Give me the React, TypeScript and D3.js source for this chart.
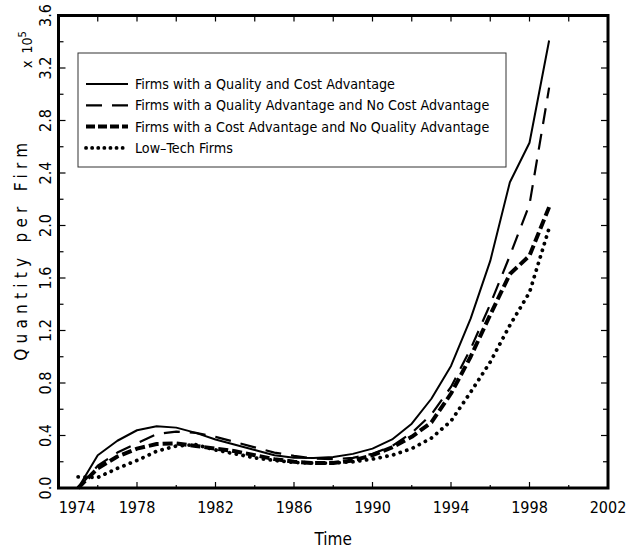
import React, { useEffect, useRef } from 'react';
import * as d3 from 'd3';

// yearly values, quantity per firm in units of 10^5
const years = [1975, 1976, 1977, 1978, 1979, 1980, 1981, 1982, 1983, 1984, 1985, 1986, 1987,
  1988, 1989, 1990, 1991, 1992, 1993, 1994, 1995, 1996, 1997, 1998, 1999];
const qualityCost = [0, 0.25, 0.36, 0.44, 0.47, 0.46, 0.42, 0.37, 0.33, 0.29, 0.25, 0.23, 0.228,
  0.236, 0.26, 0.30, 0.37, 0.49, 0.68, 0.93, 1.29, 1.73, 2.33, 2.63, 3.41];
const qualityOnly = [0, 0.17, 0.27, 0.34, 0.41, 0.43, 0.42, 0.39, 0.35, 0.31, 0.27, 0.245, 0.225,
  0.22, 0.23, 0.26, 0.32, 0.42, 0.56, 0.77, 1.06, 1.40, 1.77, 2.16, 3.05];
const costOnly = [0, 0.15, 0.24, 0.30, 0.335, 0.34, 0.32, 0.30, 0.28, 0.25, 0.22, 0.20, 0.19,
  0.19, 0.21, 0.25, 0.31, 0.39, 0.50, 0.72, 1.0, 1.32, 1.63, 1.77, 2.14];
const lowTech = [0.085, 0.08, 0.15, 0.21, 0.28, 0.32, 0.33, 0.29, 0.26, 0.23, 0.21, 0.195, 0.19,
  0.19, 0.20, 0.22, 0.25, 0.30, 0.38, 0.51, 0.73, 0.96, 1.24, 1.49, 1.98];

const seriesNames = [
  'Firms with a Quality and Cost Advantage',
  'Firms with a Quality Advantage and No Cost Advantage',
  'Firms with a Cost Advantage and No Quality Advantage',
  'Low\u2013Tech Firms',
];
const xTickLabels = [1974, 1978, 1982, 1986, 1990, 1994, 1998, 2002];
const yTickLabels = [0, 0.4, 0.8, 1.2, 1.6, 2.0, 2.4, 2.8, 3.2, 3.6];

const FONT = '"Liberation Sans Narrow", "DejaVu Sans Condensed", "Liberation Sans", sans-serif';

function App() {
  const ref = useRef<SVGSVGElement>(null);

  useEffect(() => {
    const width = 642;
    const height = 555;
    const margin = { top: 15.5, right: 34, bottom: 67, left: 58.5 };

    const svg = d3.select(ref.current);
    svg.selectAll('*').remove();

    const x = d3.scaleLinear().domain([1974, 2002]).range([margin.left, width - margin.right]);
    const y = d3.scaleLinear().domain([0, 3.6]).range([height - margin.bottom, margin.top]);

    const [x0, x1] = x.range();
    const [y0, y1] = y.range();

    const styles = [
      { data: qualityCost, width: 2, dash: null, cap: 'butt' },
      { data: qualityOnly, width: 2.2, dash: '16,10', cap: 'butt' },
      { data: costOnly, width: 4, dash: '10,4', cap: 'butt' },
      { data: lowTech, width: 3.8, dash: '0.1,6.8', cap: 'round' },
    ];

    const line = d3.line<number>()
      .x((d, i) => x(years[i]))
      .y(d => y(d));

    /* ------- LINES -------*/
    styles.forEach(s => {
      svg.append('path')
        .datum(s.data)
        .attr('d', line)
        .attr('fill', 'none')
        .attr('stroke', '#000')
        .attr('stroke-width', s.width)
        .attr('stroke-linecap', s.cap)
        .attr('stroke-linejoin', 'round')
        .attr('stroke-dasharray', s.dash);
    });

    /* ------- TICKS -------*/
    const xTicks = d3.range(1976, 2002, 2);
    xTicks.forEach(t => {
      const len = (t - 1974) % 4 === 0 ? 6 : 3;
      svg.append('line').attr('x1', x(t)).attr('x2', x(t)).attr('y1', y0).attr('y2', y0 - len)
        .attr('stroke', '#000').attr('stroke-width', 1.2);
      svg.append('line').attr('x1', x(t)).attr('x2', x(t)).attr('y1', y1).attr('y2', y1 + 6)
        .attr('stroke', '#000').attr('stroke-width', 1.2);
    });
    const yTicks = d3.range(0.2, 3.6, 0.2);
    yTicks.forEach(t => {
      const len = Math.round(t * 10) % 4 === 0 ? 7 : 5;
      svg.append('line').attr('x1', x0).attr('x2', x0 + len).attr('y1', y(t)).attr('y2', y(t))
        .attr('stroke', '#000').attr('stroke-width', 1.2);
      svg.append('line').attr('x1', x1).attr('x2', x1 - len).attr('y1', y(t)).attr('y2', y(t))
        .attr('stroke', '#000').attr('stroke-width', 1.2);
    });

    /* ------- FRAME -------*/
    svg.append('rect')
      .attr('x', x0).attr('y', y1)
      .attr('width', x1 - x0).attr('height', y0 - y1)
      .attr('fill', 'none').attr('stroke', '#000').attr('stroke-width', 3);

    /* ------- AXIS LABELS -------*/
    svg.selectAll('xLabels')
      .data(xTickLabels)
      .enter()
      .append('text')
      .attr('x', d => x(d) + (d === 1974 ? 18.5 : 0))
      .attr('y', 513)
      .attr('text-anchor', 'middle')
      .style('font-family', FONT)
      .style('font-size', '16px')
      .text(d => d);

    svg.selectAll('yLabels')
      .data(yTickLabels)
      .enter()
      .append('text')
      .attr('transform', d => `translate(50.5,${y(d)}) rotate(-90)`)
      .attr('text-anchor', 'middle')
      .style('font-family', FONT)
      .style('font-size', '16px')
      .text(d => d.toFixed(1));

    svg.append('text')
      .attr('x', (x0 + x1) / 2)
      .attr('y', 545)
      .attr('text-anchor', 'middle')
      .style('font-family', FONT)
      .style('font-size', '17px')
      .text('Time');

    svg.append('text')
      .attr('transform', `translate(26.5,${(y0 + y1) / 2}) rotate(-90)`)
      .attr('text-anchor', 'middle')
      .attr('textLength', 218)
      .attr('lengthAdjust', 'spacing')
      .style('font-family', FONT)
      .style('font-size', '17px')
      .text('Quantity per Firm');

    const mult = svg.append('text')
      .attr('transform', 'translate(32,68) rotate(-90)')
      .attr('text-anchor', 'start')
      .style('font-family', FONT)
      .style('font-size', '14px');
    mult.append('tspan').text('x');
    mult.append('tspan').attr('dx', 7).text('10');
    mult.append('tspan').attr('dy', -6).style('font-size', '11px').text('5');

    /* ------- LEGEND -------*/
    const legend = svg.append('g');
    legend.append('rect')
      .attr('x', 78).attr('y', 53).attr('width', 428).attr('height', 114)
      .attr('fill', '#fff').attr('stroke', '#333').attr('stroke-width', 1);

    const legendStyles = [
      { width: 2, dash: null, cap: 'butt' },
      { width: 2.2, dash: '16,10', cap: 'butt' },
      { width: 4, dash: '9,3', cap: 'butt' },
      { width: 3.8, dash: '0.1,6', cap: 'round' },
    ];
    seriesNames.forEach((name, i) => {
      const ly = 84 + i * 21.3;
      legend.append('line')
        .attr('x1', 86).attr('x2', 128).attr('y1', ly).attr('y2', ly)
        .attr('stroke', '#000')
        .attr('stroke-width', legendStyles[i].width)
        .attr('stroke-linecap', legendStyles[i].cap)
        .attr('stroke-dasharray', legendStyles[i].dash);
      legend.append('text')
        .attr('x', 135).attr('y', ly + 5)
        .style('font-family', FONT)
        .style('font-size', '14.2px')
        .text(name);
    });
  }, []);

  return (
    <svg ref={ref} width={642} height={555}
      style={{ position: 'absolute', left: 0, top: 0, background: '#fff' }} />
  );
}

export default App;
